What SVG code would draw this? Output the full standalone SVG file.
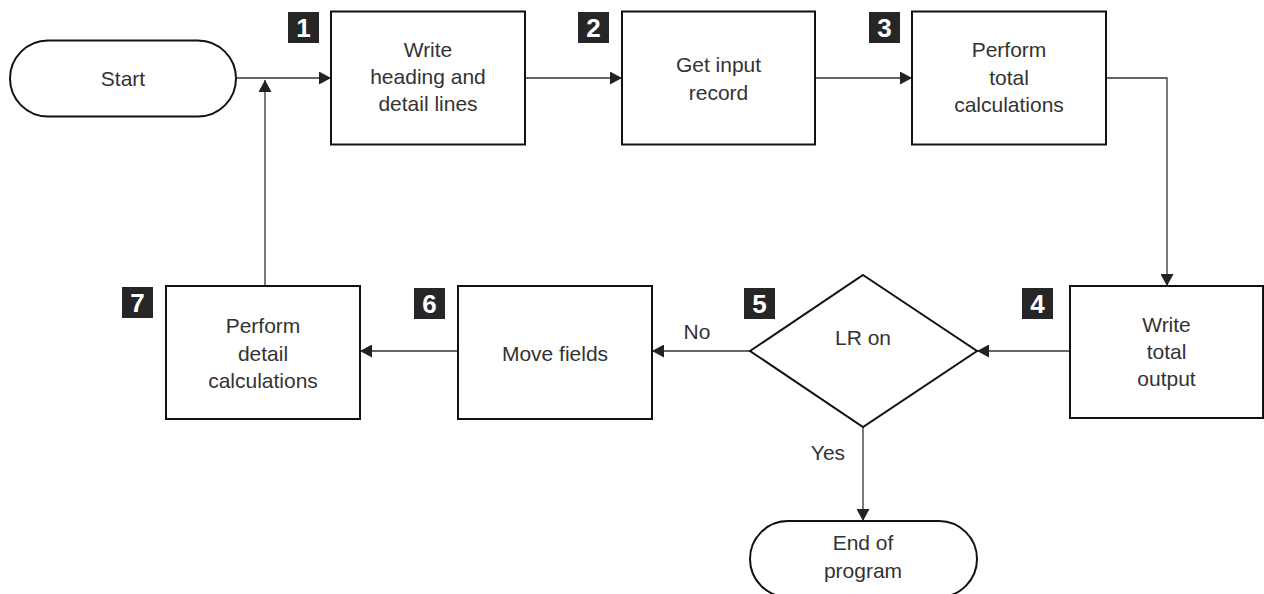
<svg xmlns="http://www.w3.org/2000/svg" width="1264" height="594" viewBox="0 0 1264 594">
<defs>
<style>
.box{fill:#fff;stroke:#111;stroke-width:2}
.t{font-family:"Liberation Sans",Arial,sans-serif;font-size:21px;fill:#333;text-anchor:middle}
.badge{fill:#262626}
.bn{font-family:"Liberation Sans",Arial,sans-serif;font-size:26px;font-weight:bold;fill:#fff;text-anchor:middle}
.c{fill:none;stroke:#333;stroke-width:1.3}
</style>
<marker id="ah" markerUnits="userSpaceOnUse" markerWidth="12" markerHeight="13" refX="12" refY="6.5" orient="auto">
<path d="M0,0 L12,6.5 L0,13 z" fill="#222"/>
</marker>
</defs>
<rect width="1264" height="594" fill="#fff"/>
<g id="connectors">
<path class="c" d="M236,78 H331" marker-end="url(#ah)"/>
<path class="c" d="M525,78 H622" marker-end="url(#ah)"/>
<path class="c" d="M815,78 H912" marker-end="url(#ah)"/>
<path class="c" d="M1106,78 H1167 V286" marker-end="url(#ah)"/>
<path class="c" d="M1070,351 H977" marker-end="url(#ah)"/>
<path class="c" d="M750,351 H652" marker-end="url(#ah)"/>
<path class="c" d="M458,351 H360" marker-end="url(#ah)"/>
<path class="c" d="M863,427 V521" marker-end="url(#ah)"/>
<path class="c" d="M265,286 V80" marker-end="url(#ah)"/>
<text class="t" x="697" y="339">No</text>
<text class="t" x="828" y="460">Yes</text>
</g>
<g id="start">
<rect class="box" x="10" y="40.5" width="226" height="76" rx="38" ry="38"/>
<text class="t" x="123" y="86">Start</text>
</g>
<g id="step1">
<rect class="badge" x="288" y="12" width="31" height="31"/>
<text class="bn" x="303.5" y="37">1</text>
<rect class="box" x="331" y="11.5" width="194" height="133"/>
<text class="t" x="428" y="57">Write</text>
<text class="t" x="428" y="84">heading and</text>
<text class="t" x="428" y="111">detail lines</text>
</g>
<g id="step2">
<rect class="badge" x="578" y="12" width="31" height="31"/>
<text class="bn" x="593.5" y="37">2</text>
<rect class="box" x="622" y="11.5" width="193" height="133"/>
<text class="t" x="718.5" y="72">Get input</text>
<text class="t" x="718.5" y="100">record</text>
</g>
<g id="step3">
<rect class="badge" x="869" y="12" width="31" height="31"/>
<text class="bn" x="884.5" y="37">3</text>
<rect class="box" x="912" y="11.5" width="194" height="133"/>
<text class="t" x="1009" y="57">Perform</text>
<text class="t" x="1009" y="85">total</text>
<text class="t" x="1009" y="112">calculations</text>
</g>
<g id="step4">
<rect class="badge" x="1022" y="288" width="31" height="31"/>
<text class="bn" x="1037.5" y="313">4</text>
<rect class="box" x="1070" y="286" width="193" height="132"/>
<text class="t" x="1166.5" y="332">Write</text>
<text class="t" x="1166.5" y="359">total</text>
<text class="t" x="1166.5" y="386">output</text>
</g>
<g id="step5">
<rect class="badge" x="744" y="288" width="31" height="31"/>
<text class="bn" x="759.5" y="313">5</text>
<polygon class="box" points="863,275 977,351 863,427 750,351"/>
<text class="t" x="863" y="345">LR on</text>
</g>
<g id="step6">
<rect class="badge" x="414" y="288" width="31" height="31"/>
<text class="bn" x="429.5" y="313">6</text>
<rect class="box" x="458" y="286" width="194" height="133"/>
<text class="t" x="555" y="361">Move fields</text>
</g>
<g id="step7">
<rect class="badge" x="122" y="287" width="31" height="31"/>
<text class="bn" x="137.5" y="312">7</text>
<rect class="box" x="166" y="286" width="194" height="133"/>
<text class="t" x="263" y="333">Perform</text>
<text class="t" x="263" y="361">detail</text>
<text class="t" x="263" y="388">calculations</text>
</g>
<g id="end">
<rect class="box" x="750" y="521" width="227" height="76" rx="38" ry="38"/>
<text class="t" x="863" y="550">End of</text>
<text class="t" x="863" y="578">program</text>
</g>
</svg>
